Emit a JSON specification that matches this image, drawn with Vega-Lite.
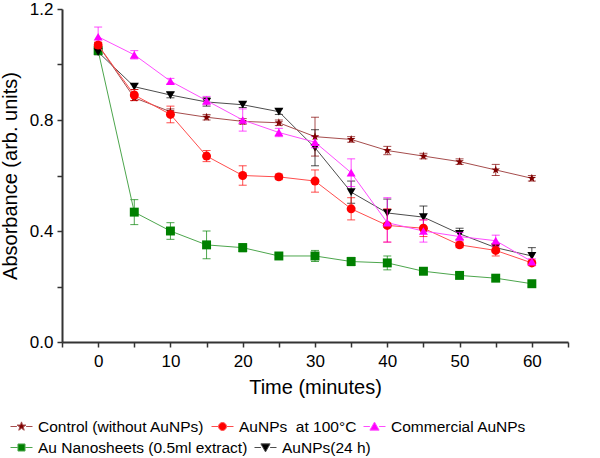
{
  "$schema": "https://vega.github.io/schema/vega-lite/v6.json",
  "width": 506,
  "height": 333,
  "autosize": {"type": "none"},
  "padding": {"left": 62, "top": 9, "right": 32, "bottom": 116},
  "background": "white",
  "config": {
    "font": "Liberation Sans",
    "view": {"stroke": null},
    "axis": {
      "grid": false,
      "domainColor": "#333333",
      "domainWidth": 2,
      "tickColor": "#333333",
      "tickWidth": 1.5,
      "tickSize": 5,
      "labelFont": "Liberation Sans",
      "labelFontSize": 17,
      "labelColor": "#000000",
      "titleFont": "Liberation Sans",
      "titleFontSize": 20,
      "titleFontWeight": "normal",
      "titleColor": "#000000"
    },
    "axisX": {"labelPadding": 6, "titlePadding": 8, "labelFlush": false},
    "axisY": {"labelPadding": 4, "titlePadding": 9, "labelFlush": false},
    "legend": {
      "labelFont": "Liberation Sans",
      "labelFontSize": 15.5,
      "labelColor": "#000000",
      "labelLimit": 400,
      "padding": 0
    }
  },
  "datasets": {
    "d": [
      {"s": "Control (without AuNPs)", "t": 0, "y": 1.07, "lo": 1.06, "hi": 1.08},
      {"s": "Control (without AuNPs)", "t": 5, "y": 0.88, "lo": 0.87, "hi": 0.89},
      {"s": "Control (without AuNPs)", "t": 10, "y": 0.83, "lo": 0.82, "hi": 0.84},
      {"s": "Control (without AuNPs)", "t": 15, "y": 0.81, "lo": 0.80, "hi": 0.82},
      {"s": "Control (without AuNPs)", "t": 20, "y": 0.795, "lo": 0.785, "hi": 0.805},
      {"s": "Control (without AuNPs)", "t": 25, "y": 0.79, "lo": 0.78, "hi": 0.80},
      {"s": "Control (without AuNPs)", "t": 30, "y": 0.74, "lo": 0.67, "hi": 0.81},
      {"s": "Control (without AuNPs)", "t": 35, "y": 0.73, "lo": 0.72, "hi": 0.74},
      {"s": "Control (without AuNPs)", "t": 40, "y": 0.69, "lo": 0.675, "hi": 0.705},
      {"s": "Control (without AuNPs)", "t": 45, "y": 0.67, "lo": 0.66, "hi": 0.68},
      {"s": "Control (without AuNPs)", "t": 50, "y": 0.65, "lo": 0.64, "hi": 0.66},
      {"s": "Control (without AuNPs)", "t": 55, "y": 0.62, "lo": 0.60, "hi": 0.64},
      {"s": "Control (without AuNPs)", "t": 60, "y": 0.59, "lo": 0.58, "hi": 0.60},
      {"s": "AuNPs\u00a0 at 100°C", "t": 0, "y": 1.07, "lo": 1.06, "hi": 1.08},
      {"s": "AuNPs\u00a0 at 100°C", "t": 5, "y": 0.89, "lo": 0.87, "hi": 0.91},
      {"s": "AuNPs\u00a0 at 100°C", "t": 10, "y": 0.82, "lo": 0.79, "hi": 0.85},
      {"s": "AuNPs\u00a0 at 100°C", "t": 15, "y": 0.67, "lo": 0.65, "hi": 0.69},
      {"s": "AuNPs\u00a0 at 100°C", "t": 20, "y": 0.60, "lo": 0.565, "hi": 0.635},
      {"s": "AuNPs\u00a0 at 100°C", "t": 25, "y": 0.595, "lo": 0.585, "hi": 0.605},
      {"s": "AuNPs\u00a0 at 100°C", "t": 30, "y": 0.58, "lo": 0.54, "hi": 0.62},
      {"s": "AuNPs\u00a0 at 100°C", "t": 35, "y": 0.48, "lo": 0.44, "hi": 0.52},
      {"s": "AuNPs\u00a0 at 100°C", "t": 40, "y": 0.42, "lo": 0.36, "hi": 0.48},
      {"s": "AuNPs\u00a0 at 100°C", "t": 45, "y": 0.41, "lo": 0.38, "hi": 0.44},
      {"s": "AuNPs\u00a0 at 100°C", "t": 50, "y": 0.35, "lo": 0.34, "hi": 0.36},
      {"s": "AuNPs\u00a0 at 100°C", "t": 55, "y": 0.33, "lo": 0.31, "hi": 0.35},
      {"s": "AuNPs\u00a0 at 100°C", "t": 60, "y": 0.285, "lo": 0.275, "hi": 0.295},
      {"s": "Commercial AuNPs", "t": 0, "y": 1.10, "lo": 1.065, "hi": 1.135},
      {"s": "Commercial AuNPs", "t": 5, "y": 1.035, "lo": 1.02, "hi": 1.05},
      {"s": "Commercial AuNPs", "t": 10, "y": 0.94, "lo": 0.93, "hi": 0.95},
      {"s": "Commercial AuNPs", "t": 15, "y": 0.87, "lo": 0.855, "hi": 0.885},
      {"s": "Commercial AuNPs", "t": 20, "y": 0.80, "lo": 0.76, "hi": 0.84},
      {"s": "Commercial AuNPs", "t": 25, "y": 0.755, "lo": 0.74, "hi": 0.77},
      {"s": "Commercial AuNPs", "t": 30, "y": 0.72, "lo": 0.70, "hi": 0.74},
      {"s": "Commercial AuNPs", "t": 35, "y": 0.61, "lo": 0.56, "hi": 0.66},
      {"s": "Commercial AuNPs", "t": 40, "y": 0.43, "lo": 0.36, "hi": 0.52},
      {"s": "Commercial AuNPs", "t": 45, "y": 0.40, "lo": 0.36, "hi": 0.44},
      {"s": "Commercial AuNPs", "t": 50, "y": 0.38, "lo": 0.365, "hi": 0.395},
      {"s": "Commercial AuNPs", "t": 55, "y": 0.365, "lo": 0.345, "hi": 0.385},
      {"s": "Commercial AuNPs", "t": 60, "y": 0.29, "lo": 0.28, "hi": 0.30},
      {"s": "Au Nanosheets (0.5ml extract)", "t": 0, "y": 1.05, "lo": 1.04, "hi": 1.06},
      {"s": "Au Nanosheets (0.5ml extract)", "t": 5, "y": 0.468, "lo": 0.423, "hi": 0.513},
      {"s": "Au Nanosheets (0.5ml extract)", "t": 10, "y": 0.40, "lo": 0.37, "hi": 0.43},
      {"s": "Au Nanosheets (0.5ml extract)", "t": 15, "y": 0.35, "lo": 0.30, "hi": 0.40},
      {"s": "Au Nanosheets (0.5ml extract)", "t": 20, "y": 0.34, "lo": 0.325, "hi": 0.355},
      {"s": "Au Nanosheets (0.5ml extract)", "t": 25, "y": 0.31, "lo": 0.30, "hi": 0.32},
      {"s": "Au Nanosheets (0.5ml extract)", "t": 30, "y": 0.31, "lo": 0.29, "hi": 0.33},
      {"s": "Au Nanosheets (0.5ml extract)", "t": 35, "y": 0.29, "lo": 0.275, "hi": 0.305},
      {"s": "Au Nanosheets (0.5ml extract)", "t": 40, "y": 0.285, "lo": 0.26, "hi": 0.31},
      {"s": "Au Nanosheets (0.5ml extract)", "t": 45, "y": 0.255, "lo": 0.245, "hi": 0.265},
      {"s": "Au Nanosheets (0.5ml extract)", "t": 50, "y": 0.24, "lo": 0.23, "hi": 0.25},
      {"s": "Au Nanosheets (0.5ml extract)", "t": 55, "y": 0.23, "lo": 0.22, "hi": 0.24},
      {"s": "Au Nanosheets (0.5ml extract)", "t": 60, "y": 0.21, "lo": 0.20, "hi": 0.22},
      {"s": "AuNPs(24 h)", "t": 0, "y": 1.045, "lo": 1.035, "hi": 1.055},
      {"s": "AuNPs(24 h)", "t": 5, "y": 0.92, "lo": 0.91, "hi": 0.93},
      {"s": "AuNPs(24 h)", "t": 10, "y": 0.89, "lo": 0.88, "hi": 0.90},
      {"s": "AuNPs(24 h)", "t": 15, "y": 0.865, "lo": 0.85, "hi": 0.88},
      {"s": "AuNPs(24 h)", "t": 20, "y": 0.855, "lo": 0.845, "hi": 0.865},
      {"s": "AuNPs(24 h)", "t": 25, "y": 0.83, "lo": 0.82, "hi": 0.84},
      {"s": "AuNPs(24 h)", "t": 30, "y": 0.70, "lo": 0.635, "hi": 0.765},
      {"s": "AuNPs(24 h)", "t": 35, "y": 0.54, "lo": 0.50, "hi": 0.58},
      {"s": "AuNPs(24 h)", "t": 40, "y": 0.465, "lo": 0.415, "hi": 0.515},
      {"s": "AuNPs(24 h)", "t": 45, "y": 0.45, "lo": 0.41, "hi": 0.49},
      {"s": "AuNPs(24 h)", "t": 50, "y": 0.39, "lo": 0.37, "hi": 0.41},
      {"s": "AuNPs(24 h)", "t": 55, "y": 0.34, "lo": 0.325, "hi": 0.355},
      {"s": "AuNPs(24 h)", "t": 60, "y": 0.31, "lo": 0.28, "hi": 0.34}
    ]
  },
  "data": {"name": "d"},
  "encoding": {
    "x": {
      "field": "t",
      "type": "quantitative",
      "scale": {"domain": [-5, 65], "nice": false, "zero": false},
      "axis": {
        "values": [-5, 0, 5, 10, 15, 20, 25, 30, 35, 40, 45, 50, 55, 60, 65],
        "labelExpr": "(datum.value % 10 == 0 && datum.value >= 0) ? datum.label : ''",
        "title": "Time (minutes)"
      }
    }
  },
  "layer": [
    {
      "transform": [{"filter": {"field": "s", "oneOf": ["Au Nanosheets (0.5ml extract)", "AuNPs(24 h)"]}}],
      "layer": [
        {
          "mark": {"type": "rule", "strokeWidth": 1, "opacity": 0.7},
          "encoding": {
            "y": {"field": "lo", "type": "quantitative", "scale": {"domain": [0, 1.2], "nice": false}, "axis": {"values": [0, 0.2, 0.4, 0.6, 0.8, 1.0, 1.2], "labelExpr": "(round(datum.value*10) % 4 == 0) ? format(datum.value, '.1f') : ''", "title": "Absorbance (arb. units)"}},
            "y2": {"field": "hi"},
            "color": {"field": "s", "type": "nominal", "scale": {"domain": ["AuNPs(24 h)", "Au Nanosheets (0.5ml extract)"], "range": ["#000000", "#008000"]}, "legend": null}
          }
        },
        {
          "mark": {"type": "tick", "orient": "horizontal", "size": 8, "thickness": 1, "opacity": 0.7},
          "encoding": {
            "y": {"field": "lo", "type": "quantitative", "scale": {"domain": [0, 1.2], "nice": false}, "axis": {"values": [0, 0.2, 0.4, 0.6, 0.8, 1.0, 1.2], "labelExpr": "(round(datum.value*10) % 4 == 0) ? format(datum.value, '.1f') : ''", "title": "Absorbance (arb. units)"}},
            "color": {"field": "s", "type": "nominal", "scale": {"domain": ["AuNPs(24 h)", "Au Nanosheets (0.5ml extract)"], "range": ["#000000", "#008000"]}, "legend": null}
          }
        },
        {
          "mark": {"type": "tick", "orient": "horizontal", "size": 8, "thickness": 1, "opacity": 0.7},
          "encoding": {
            "y": {"field": "hi", "type": "quantitative", "scale": {"domain": [0, 1.2], "nice": false}, "axis": {"values": [0, 0.2, 0.4, 0.6, 0.8, 1.0, 1.2], "labelExpr": "(round(datum.value*10) % 4 == 0) ? format(datum.value, '.1f') : ''", "title": "Absorbance (arb. units)"}},
            "color": {"field": "s", "type": "nominal", "scale": {"domain": ["AuNPs(24 h)", "Au Nanosheets (0.5ml extract)"], "range": ["#000000", "#008000"]}, "legend": null}
          }
        },
        {
          "mark": {"type": "line", "strokeWidth": 1},
          "encoding": {
            "y": {"field": "y", "type": "quantitative", "scale": {"domain": [0, 1.2], "nice": false}, "axis": {"values": [0, 0.2, 0.4, 0.6, 0.8, 1.0, 1.2], "labelExpr": "(round(datum.value*10) % 4 == 0) ? format(datum.value, '.1f') : ''", "title": "Absorbance (arb. units)"}},
            "stroke": {
              "field": "s",
              "type": "nominal",
              "scale": {"domain": ["Au Nanosheets (0.5ml extract)", "AuNPs(24 h)"], "range": ["#4da64d", "#4d4d4d"]},
              "legend": {
                "title": null,
                "orient": "none",
                "legendX": -52,
                "legendY": 427,
                "direction": "horizontal",
                "symbolSize": 484,
                "symbolStrokeWidth": 1,
                "labelOffset": 5,
                "columnPadding": 4,
                "encode": {
                  "symbols": {
                    "update": {
                      "shape": {"signal": "datum.value === 'AuNPs(24 h)' ? 'M-1,0H-0.42M0.42,0H1M0,0.4L0.42,-0.33L-0.42,-0.33Z' : 'M-1,0H-0.34M0.34,0H1M-0.32,-0.32H0.32V0.32H-0.32Z'"},
                      "fill": {"signal": "datum.value === 'AuNPs(24 h)' ? '#000000' : '#008000'"}
                    }
                  }
                }
              }
            }
          }
        },
        {
          "mark": {"type": "point", "filled": true, "size": 80, "opacity": 1},
          "encoding": {
            "y": {"field": "y", "type": "quantitative", "scale": {"domain": [0, 1.2], "nice": false}, "axis": {"values": [0, 0.2, 0.4, 0.6, 0.8, 1.0, 1.2], "labelExpr": "(round(datum.value*10) % 4 == 0) ? format(datum.value, '.1f') : ''", "title": "Absorbance (arb. units)"}},
            "color": {"field": "s", "type": "nominal", "scale": {"domain": ["AuNPs(24 h)", "Au Nanosheets (0.5ml extract)"], "range": ["#000000", "#008000"]}, "legend": null},
            "shape": {
              "field": "s",
              "type": "nominal",
              "scale": {"domain": ["AuNPs(24 h)", "Au Nanosheets (0.5ml extract)"], "range": ["triangle-down", "square"]},
              "legend": null
            }
          }
        }
      ]
    },
    {
      "transform": [{"filter": {"field": "s", "oneOf": ["Control (without AuNPs)", "AuNPs\u00a0 at 100°C", "Commercial AuNPs"]}}],
      "layer": [
        {
          "mark": {"type": "rule", "strokeWidth": 1, "opacity": 0.7},
          "encoding": {
            "y": {"field": "lo", "type": "quantitative", "scale": {"domain": [0, 1.2], "nice": false}, "axis": {"values": [0, 0.2, 0.4, 0.6, 0.8, 1.0, 1.2], "labelExpr": "(round(datum.value*10) % 4 == 0) ? format(datum.value, '.1f') : ''", "title": "Absorbance (arb. units)"}},
            "y2": {"field": "hi"},
            "color": {"field": "s", "type": "nominal", "scale": {"domain": ["Commercial AuNPs", "AuNPs\u00a0 at 100°C", "Control (without AuNPs)"], "range": ["#ff00ff", "#ff0000", "#800000"]}, "legend": null}
          }
        },
        {
          "mark": {"type": "tick", "orient": "horizontal", "size": 8, "thickness": 1, "opacity": 0.7},
          "encoding": {
            "y": {"field": "lo", "type": "quantitative", "scale": {"domain": [0, 1.2], "nice": false}, "axis": {"values": [0, 0.2, 0.4, 0.6, 0.8, 1.0, 1.2], "labelExpr": "(round(datum.value*10) % 4 == 0) ? format(datum.value, '.1f') : ''", "title": "Absorbance (arb. units)"}},
            "color": {"field": "s", "type": "nominal", "scale": {"domain": ["Commercial AuNPs", "AuNPs\u00a0 at 100°C", "Control (without AuNPs)"], "range": ["#ff00ff", "#ff0000", "#800000"]}, "legend": null}
          }
        },
        {
          "mark": {"type": "tick", "orient": "horizontal", "size": 8, "thickness": 1, "opacity": 0.7},
          "encoding": {
            "y": {"field": "hi", "type": "quantitative", "scale": {"domain": [0, 1.2], "nice": false}, "axis": {"values": [0, 0.2, 0.4, 0.6, 0.8, 1.0, 1.2], "labelExpr": "(round(datum.value*10) % 4 == 0) ? format(datum.value, '.1f') : ''", "title": "Absorbance (arb. units)"}},
            "color": {"field": "s", "type": "nominal", "scale": {"domain": ["Commercial AuNPs", "AuNPs\u00a0 at 100°C", "Control (without AuNPs)"], "range": ["#ff00ff", "#ff0000", "#800000"]}, "legend": null}
          }
        },
        {
          "mark": {"type": "line", "strokeWidth": 1},
          "encoding": {
            "y": {"field": "y", "type": "quantitative", "scale": {"domain": [0, 1.2], "nice": false}, "axis": {"values": [0, 0.2, 0.4, 0.6, 0.8, 1.0, 1.2], "labelExpr": "(round(datum.value*10) % 4 == 0) ? format(datum.value, '.1f') : ''", "title": "Absorbance (arb. units)"}},
            "stroke": {
              "field": "s",
              "type": "nominal",
              "scale": {"domain": ["Control (without AuNPs)", "AuNPs\u00a0 at 100°C", "Commercial AuNPs"], "range": ["#a64d4d", "#ff4d4d", "#ff4dff"]},
              "legend": {
                "title": null,
                "orient": "none",
                "legendX": -52,
                "legendY": 406,
                "direction": "horizontal",
                "symbolSize": 484,
                "symbolStrokeWidth": 1,
                "labelOffset": 5,
                "columnPadding": 4,
                "encode": {
                  "symbols": {
                    "update": {
                      "shape": {"signal": "datum.value === 'Control (without AuNPs)' ? 'M-1,0H-0.42M0.42,0H1M0,-0.42L0.099,-0.136L0.399,-0.13L0.16,0.052L0.247,0.34L0,0.168L-0.247,0.34L-0.16,0.052L-0.399,-0.13L-0.099,-0.136Z' : (datum.value === 'Commercial AuNPs' ? 'M-1,0H-0.42M0.42,0H1M0,-0.4L0.42,0.33L-0.42,0.33Z' : 'M-1,0H-0.38M0.38,0H1M0.36,0A0.36,0.36 0 1,1 -0.36,0A0.36,0.36 0 1,1 0.36,0Z')"},
                      "fill": {"signal": "datum.value === 'Control (without AuNPs)' ? '#800000' : (datum.value === 'Commercial AuNPs' ? '#ff00ff' : '#ff0000')"}
                    }
                  }
                }
              }
            }
          }
        },
        {
          "mark": {"type": "point", "filled": true, "size": 80, "opacity": 1},
          "encoding": {
            "y": {"field": "y", "type": "quantitative", "scale": {"domain": [0, 1.2], "nice": false}, "axis": {"values": [0, 0.2, 0.4, 0.6, 0.8, 1.0, 1.2], "labelExpr": "(round(datum.value*10) % 4 == 0) ? format(datum.value, '.1f') : ''", "title": "Absorbance (arb. units)"}},
            "color": {"field": "s", "type": "nominal", "scale": {"domain": ["Commercial AuNPs", "AuNPs\u00a0 at 100°C", "Control (without AuNPs)"], "range": ["#ff00ff", "#ff0000", "#800000"]}, "legend": null},
            "shape": {
              "field": "s",
              "type": "nominal",
              "scale": {"domain": ["Commercial AuNPs", "AuNPs\u00a0 at 100°C", "Control (without AuNPs)"], "range": ["triangle-up", "circle", "M0,-1L0.235,-0.324L0.951,-0.309L0.38,0.124L0.588,0.809L0,0.4L-0.588,0.809L-0.38,0.124L-0.951,-0.309L-0.235,-0.324Z"]},
              "legend": null
            }
          }
        }
      ]
    }
  ],
  "resolve": {"scale": {"color": "independent", "shape": "independent", "stroke": "independent"}}
}
